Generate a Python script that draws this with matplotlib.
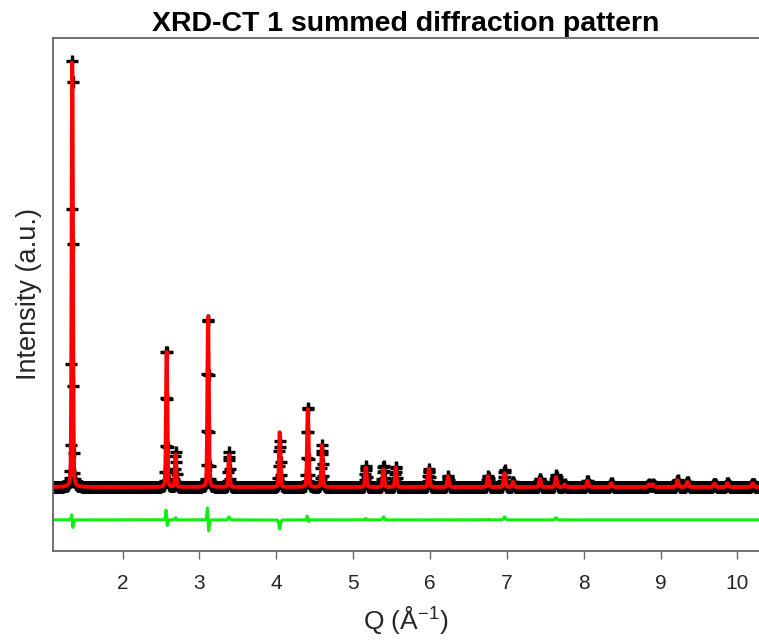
import numpy as np
import matplotlib
matplotlib.use('Agg')
import matplotlib.pyplot as plt

plt.rcParams['font.family'] = ['Liberation Sans', 'DejaVu Sans']
plt.rcParams['mathtext.default'] = 'regular'

# reflections (Q in 1/A, heights in a.u., tallest = 100)
peak_q = [1.346, 2.573, 2.690, 3.112, 3.385, 4.045, 4.410, 4.595, 5.165, 5.395,
          5.555, 5.985, 6.235, 6.755, 6.970, 7.080, 7.430, 7.640, 7.750, 8.050,
          8.360, 8.850, 8.900, 9.220, 9.350, 9.700, 9.870, 10.200]
obs_height = [102.5, 33.0, 8.1, 40.5, 8.1, 10.6, 19.0, 9.7, 4.9, 4.9,
              4.6, 4.2, 2.5, 2.6, 3.9, 1.2, 1.9, 2.8, 0.6, 1.4,
              0.9, 0.6, 0.6, 1.6, 1.2, 0.8, 0.9, 0.8]
calc_height = [103.0, 32.2, 7.6, 40.3, 7.4, 12.7, 18.6, 9.7, 4.6, 4.2,
               4.6, 4.2, 2.5, 2.5, 3.2, 1.2, 1.9, 2.3, 0.6, 1.4,
               0.9, 0.6, 0.6, 1.6, 1.2, 0.8, 0.9, 0.8]
calc_shift = [0.0002, 0.0008, 0.0, 0.001, 0.0, 0.0, 0.0005, 0.0, 0.0, 0.0,
              0.0, 0.0, 0.0, 0.0, 0.0, 0.0, 0.0, 0.0, 0.0, 0.0,
              0.0, 0.0, 0.0, 0.0, 0.0, 0.0, 0.0, 0.0]
peak_fwhm = [0.019, 0.020, 0.020, 0.021, 0.021, 0.022, 0.022, 0.022, 0.024, 0.024,
             0.024, 0.025, 0.025, 0.026, 0.026, 0.026, 0.027, 0.027, 0.027, 0.028,
             0.028, 0.029, 0.029, 0.029, 0.030, 0.030, 0.030, 0.031]

q_min, q_max, q_step = 1.0908, 10.28, 0.0055
diff_offset = -7.6

q = np.arange(q_min, q_max, q_step)


def profile(heights, shifts):
    y = np.zeros_like(q)
    for c, h, s, w in zip(peak_q, heights, shifts, peak_fwhm):
        x = (q - c - s) / w
        g = np.exp(-4 * np.log(2) * x ** 2)
        l = 1 / (1 + 4 * x ** 2)
        y += h * (0.8 * g + 0.2 * l)
    return y


y_obs = profile(obs_height, [0] * len(peak_q))
y_calc = profile(calc_height, calc_shift)
y_diff = y_obs - y_calc + diff_offset

fig = plt.figure(figsize=(7.59, 6.41), dpi=100)
ax = fig.add_axes([53 / 759, 1 - 551 / 641, 1 - 53 / 759, (551 - 38) / 641])

ax.plot(q, y_obs, ls='none', marker='+', ms=9, mew=2.4, color='k')
ax.plot(q, y_calc, color='#ff0000', lw=2.8)
ax.plot(q, y_diff, color='#11ee11', lw=2.2)

ax.set_xlim(1.095, q_max)
ax.set_ylim(-14.8, 103.9)
ax.set_xticks(range(2, 11))
ax.set_yticks([])
ax.spines['right'].set_visible(False)
for sp in ['left', 'top', 'bottom']:
    ax.spines[sp].set_color('#666666')
    ax.spines[sp].set_linewidth(1.3)
ax.tick_params(axis='x', direction='out', length=5.5, width=1, color='#666666',
               labelsize=15, labelcolor='#262626', pad=11)

ax.set_xlabel('Q (Å$^{-1}$)', fontsize=19, color='#262626', labelpad=8)
ax.set_ylabel('Intensity (a.u.)', fontsize=19.5, color='#262626', labelpad=8)
ax.set_title('XRD-CT 1 summed diffraction pattern', fontsize=20.5, fontweight='bold', pad=5)

plt.savefig('out.png', dpi=100)
